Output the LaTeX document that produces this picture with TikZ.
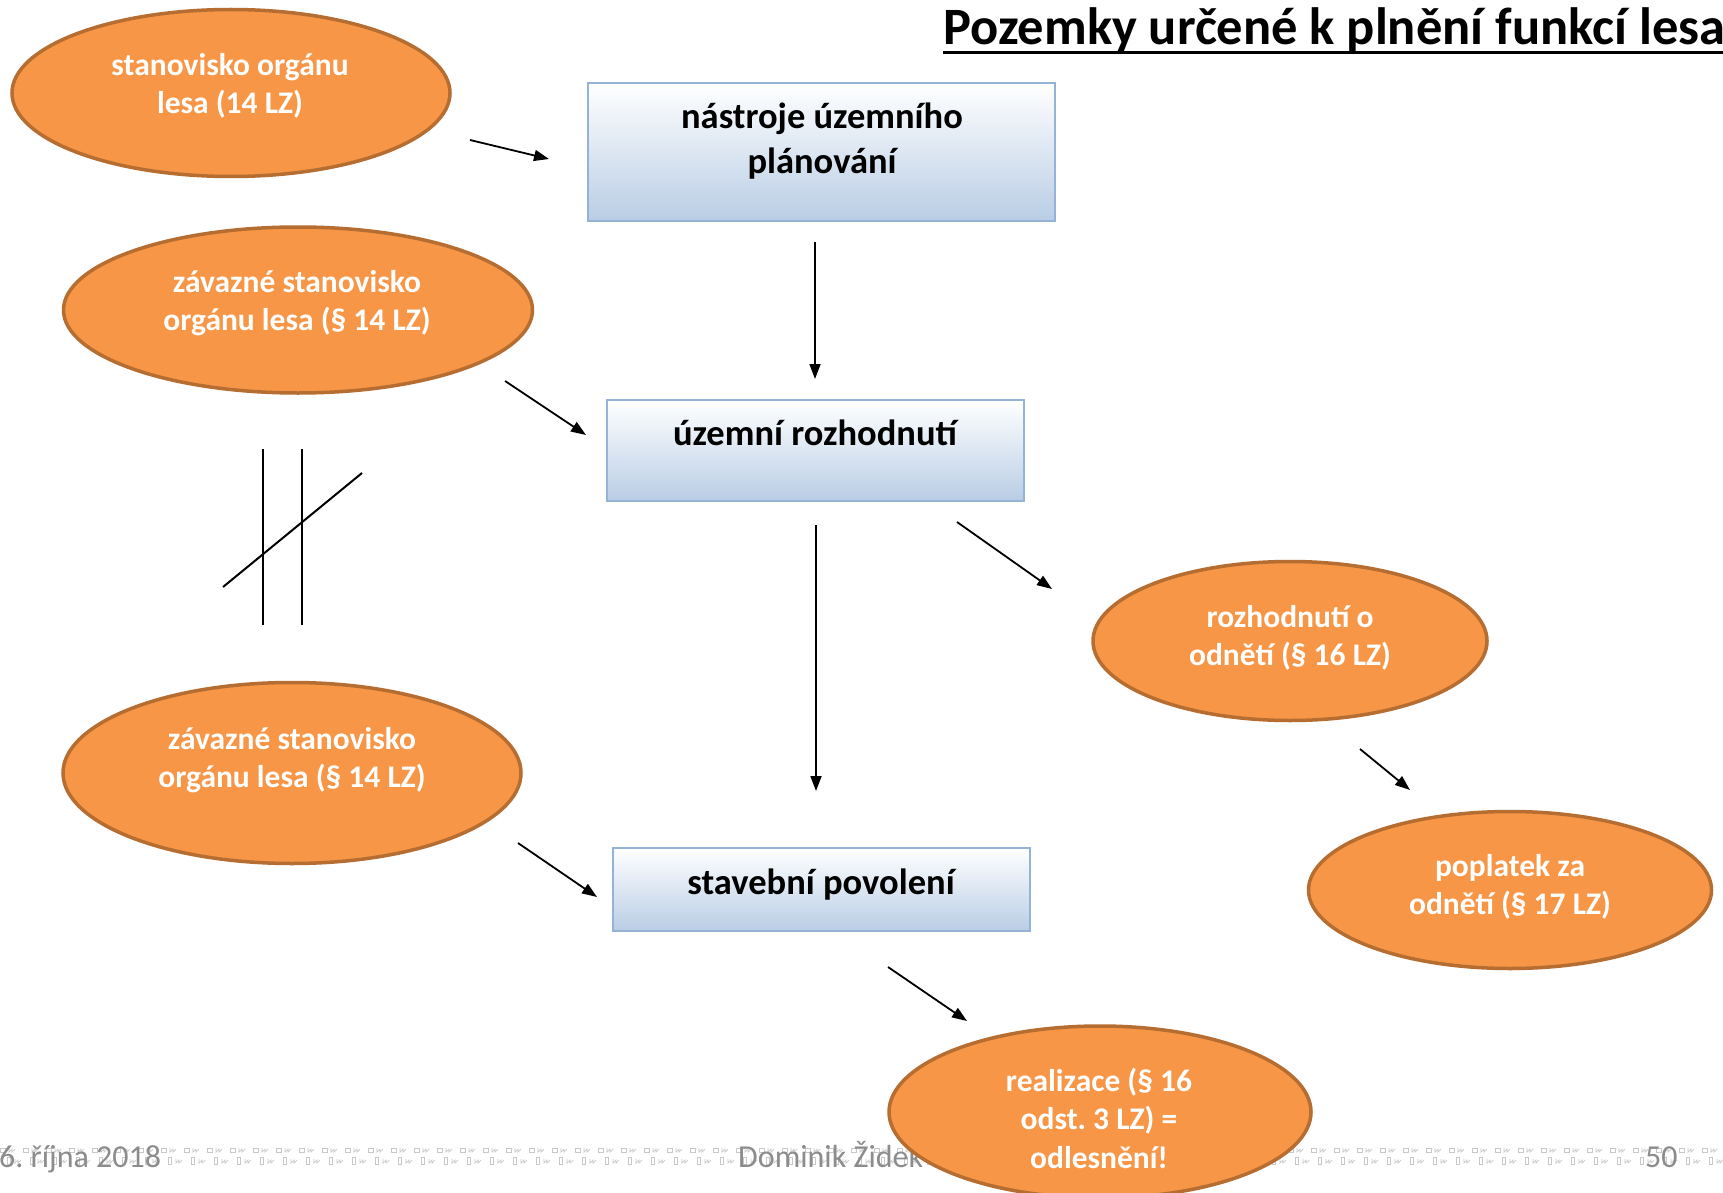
\documentclass[tikz,border=0pt]{standalone}
\usepackage{fontspec}
\setmainfont{Carlito}
\usetikzlibrary{arrows.meta,shapes.geometric,calc}
\definecolor{orfill}{HTML}{F79646}
\definecolor{ordraw}{HTML}{B66D31}
\definecolor{boxdraw}{HTML}{95B3D7}
\definecolor{boxbot}{HTML}{B9CDE5}
\definecolor{foot}{HTML}{8C8C8C}
\definecolor{dotc}{HTML}{C8C8C8}
\frenchspacing
\begin{document}
\begin{tikzpicture}[x=1pt,y=-1pt,
  ell/.style={ellipse, fill=orfill, draw=ordraw, line width=3.5pt, inner sep=0pt},
  elltxt/.style={text=white, font=\bfseries\fontsize{31.5}{38.5}\selectfont, align=center, inner sep=0pt},
  box/.style={rectangle, draw=boxdraw, line width=2.5pt, top color=white, bottom color=boxbot, inner sep=0pt},
  boxtxt/.style={font=\bfseries\fontsize{36.5}{45}\selectfont, align=center, inner sep=0pt},
  arr/.style={line width=1.8pt, -{Triangle[length=15pt,width=11pt]}},
  plainline/.style={line width=2pt},
  foottxt/.style={text=foot, font=\fontsize{32}{38}\selectfont, inner sep=0pt, anchor=base west},
  leader/.style={draw=dotc, line width=0.7pt},
]
\useasboundingbox (0,0) rectangle (1723,1193);
\clip (0,0) rectangle (1723,1193);
\fill[white] (0,0) rectangle (1723,1193);

% footer leader pattern
\foreach \i in {0,...,75}{
  \pgfmathsetmacro{\xx}{\i*23}
  \draw[leader] (\xx,1148) rectangle (\xx+5,1152);
  \draw[leader] (\xx+9,1148) -- (\xx+9,1152) -- (\xx+12,1149) -- (\xx+12,1152) -- (\xx+15,1149);
  \draw[leader] (\xx+7,1157) rectangle (\xx+10,1164);
  \draw[leader] (\xx+15,1159) -- (\xx+15,1163) -- (\xx+18,1160) -- (\xx+18,1163) -- (\xx+21,1160);
}

% footer texts
\node[foottxt] (date) at (-1,1167) {6. října 2018};
\node[foottxt] (author) at (738,1167) {Dominik Židek};
\node[foottxt] (page) at (1645,1167) {50};

% title
\node[anchor=base west, inner sep=0pt, font=\bfseries\fontsize{52.5}{60}\selectfont] (title) at (943,45) {Pozemky určené k plnění funkcí lesa};
\draw[line width=3pt] ([yshift=-8pt]title.base west) -- ([yshift=-8pt]title.base east);

% boxes
\node[box, minimum width=467pt, minimum height=138pt] (b1) at (821.5,152) {};
\node[boxtxt] (b1t) at (822,141) {nástroje územního\\plánování};
\node[box, minimum width=417pt, minimum height=101pt] (b2) at (815.5,450.5) {};
\node[boxtxt] (b2t) at (815,433) {územní rozhodnutí};
\node[box, minimum width=417pt, minimum height=83pt] (b3) at (821.5,889.5) {};
\node[boxtxt] (b3t) at (821,885) {stavební povolení};

% ellipses
\node[ell, minimum width=438pt, minimum height=167pt] (e1) at (231,93) {};
\node[elltxt] (e1t) at (230,86) {stanovisko orgánu\\lesa (14 LZ)};
\node[ell, minimum width=469pt, minimum height=166pt] (e2) at (298,310) {};
\node[elltxt] (e2t) at (297,303) {závazné stanovisko\\orgánu lesa (§ 14 LZ)};
\node[ell, minimum width=458pt, minimum height=181pt] (e3) at (292,773) {};
\node[elltxt] (e3t) at (292,760) {závazné stanovisko\\orgánu lesa (§ 14 LZ)};
\node[ell, minimum width=394pt, minimum height=159pt] (e4) at (1290,641) {};
\node[elltxt] (e4t) at (1290,638) {rozhodnutí o\\odnětí (§ 16 LZ)};
\node[ell, minimum width=403pt, minimum height=157pt] (e5) at (1510,890) {};
\node[elltxt] (e5t) at (1510,887) {poplatek za\\odnětí (§ 17 LZ)};
\node[ell, minimum width=422pt, minimum height=172pt] (e6) at (1100,1112) {};
\node[elltxt] (e6t) at (1099,1118) {realizace (§ 16\\odst. 3 LZ) =\\odlesnění!};

% connector end points
\coordinate (a1s) at (470,140);  \coordinate (a1e) at (549,159);
\coordinate (a2s) at (815,242);  \coordinate (a2e) at (815,379);
\coordinate (a3s) at (505,381);  \coordinate (a3e) at (586,435);
\coordinate (a4s) at (816,525);  \coordinate (a4e) at (816,791);
\coordinate (a5s) at (957,522);  \coordinate (a5e) at (1052,589);
\coordinate (a6s) at (1360,749); \coordinate (a6e) at (1410,790);
\coordinate (a7s) at (518,843);  \coordinate (a7e) at (597,897);
\coordinate (a8s) at (888,967);  \coordinate (a8e) at (967,1021);

\draw[arr] (a1s) -- (a1e);
\draw[arr] (a2s) -- (a2e);
\draw[arr] (a3s) -- (a3e);
\draw[arr] (a4s) -- (a4e);
\draw[arr] (a5s) -- (a5e);
\draw[arr] (a6s) -- (a6e);
\draw[arr] (a7s) -- (a7e);
\draw[arr] (a8s) -- (a8e);

% "not equal" sign
\draw[plainline] (263,449) -- (263,625);
\draw[plainline] (302,449) -- (302,625);
\draw[plainline] (223,587) -- (362,473);
\end{tikzpicture}
\end{document}
